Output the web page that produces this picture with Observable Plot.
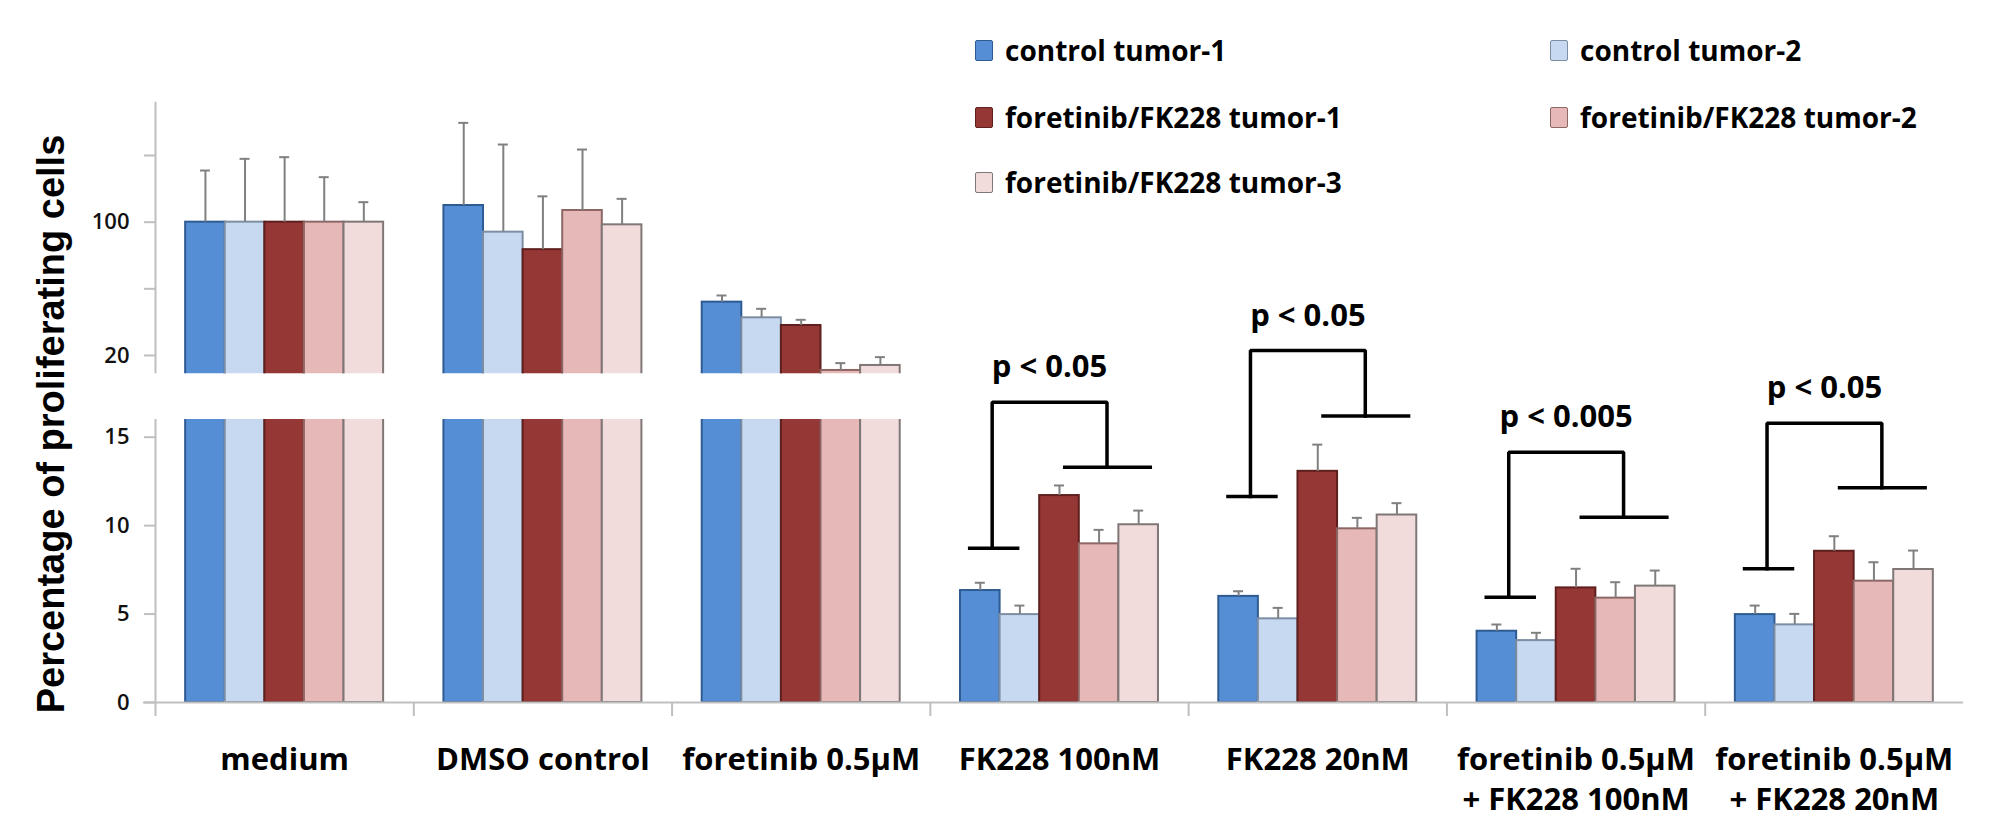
<!DOCTYPE html>
<html>
<head>
<meta charset="utf-8">
<script src="https://cdn.jsdelivr.net/npm/d3@7"></script>
<script src="https://cdn.jsdelivr.net/npm/@observablehq/plot@0.6"></script>
<style>
  body { margin: 0; background: #fff; }
  #chart { position: relative; width: 2008px; height: 839px; background: #fff; overflow: hidden; }
  #chart svg { position: absolute; left: 0; top: 0; }
  .ytitle {
    position: absolute; left: 51px; top: 424px; white-space: nowrap;
    transform: translate(-50%, -50%) rotate(-90deg);
    font: bold 38px "Liberation Sans", Arial, sans-serif; color: #000;
  }
  .key { position: absolute; display: flex; align-items: center; white-space: nowrap;
    font: bold 28px "Open Sans", sans-serif; color: #000; }
  .key i { display: inline-block; width: 16px; height: 19px; margin-right: 12px;
    border: 1.5px solid; border-radius: 2px; }
</style>
</head>
<body>
<div id="chart"></div>
<script>
// ---------- data ----------
const categories = [
  "medium", "DMSO control", "foretinib 0.5µM", "FK228 100nM", "FK228 20nM",
  "foretinib 0.5µM\n+ FK228 100nM", "foretinib 0.5µM\n+ FK228 20nM"
];
const series = [
  "control tumor-1", "control tumor-2", "foretinib/FK228 tumor-1",
  "foretinib/FK228 tumor-2", "foretinib/FK228 tumor-3"
];
const fills   = ["#558ed5", "#c6d9f1", "#953735", "#e6b9b8", "#f2dcdb"];
const strokes = ["#2f5b93", "#7d8ea3", "#5e1f1d", "#8c6766", "#7f7777"];

// mean % proliferating cells, one row per category, one column per series
const means = [
  [100, 100, 100, 100, 100],
  [110, 94, 83.5, 107, 98.4],
  [52, 42.6, 38, 11, 14],
  [6.33, 4.97, 11.7, 8.97, 10.05],
  [6.0, 4.73, 13.07, 9.82, 10.6],
  [4.03, 3.5, 6.48, 5.9, 6.58],
  [4.97, 4.39, 8.55, 6.86, 7.52]
];
const errors = [
  [31, 38, 39, 27, 12],
  [49.6, 52.6, 32, 36.6, 15.6],
  [4, 5.4, 3.4, 4.4, 5],
  [0.44, 0.51, 0.57, 0.79, 0.8],
  [0.29, 0.62, 1.51, 0.62, 0.67],
  [0.38, 0.44, 1.08, 0.9, 0.88],
  [0.51, 0.62, 0.85, 1.07, 1.07]
];
const brokenCount = 3;              // first categories are drawn across the axis break
const upperDomain = [9, 172];
const lowerDomain = [0, 16];
const upperTicks = [20, 60, 100, 140];
const upperLabelled = [20, 100];
const lowerTicks = [0, 5, 10, 15];

// significance brackets (categories 3..6), heights in lower-axis units
const pLabels     = ["p < 0.05", "p < 0.05", "p < 0.005", "p < 0.05"];
const bracketLow  = [8.72, 11.65, 5.95, 7.56];   // arm over the controls
const bracketHigh = [13.3, 16.2, 10.47, 12.14];  // arm over the treated tumors
const bracketTop  = [16.97, 19.9, 14.15, 15.79];

// ---------- layout helpers ----------
const W = 2008, H = 839;
const pad = 0.1167, bw = 0.1533;     // fraction of a category slot
const axisGray = "#bfbfbf";
const at = (gi, u) => gi + pad + u * bw;   // u in bar widths from the group's left edge

const rows = categories.flatMap((c, gi) => series.map((s, si) => ({
  gi, si, value: means[gi][si], err: errors[gi][si], broken: gi < brokenCount
})));

const barMarks = (data, y2) => series.map((s, si) => Plot.rectY(data.filter(d => d.si === si), {
  x1: d => at(d.gi, d.si), x2: d => at(d.gi, d.si + 1),
  y1: 0, y2,
  fill: fills[si], stroke: strokes[si], strokeWidth: 2, clip: true
}));
const errMarks = (data) => [
  Plot.ruleX(data, {x: d => at(d.gi, d.si + 0.5), y1: "value", y2: d => d.value + d.err,
    stroke: "#808080", strokeWidth: 2}),
  Plot.ruleY(data, {x1: d => at(d.gi, d.si + 0.5), x2: d => at(d.gi, d.si + 0.5),
    y: d => d.value + d.err, insetLeft: -5, insetRight: -5, stroke: "#808080", strokeWidth: 2})
];
const yTicks = (ticks, labelled) => [
  Plot.ruleY(ticks, {x1: 0, x2: 0, insetLeft: -11, stroke: axisGray, strokeWidth: 2}),
  Plot.text(labelled, {x: 0, y: d => d, dx: -26, textAnchor: "end", fontSize: 22,
    fontFamily: "Open Sans", fontWeight: 600, fill: "#111"})
];

// ---------- lower panel (0-16) ----------
const lowerRows = rows;
const bracketPts = pLabels.flatMap((p, k) => {
  const gi = brokenCount + k;
  return [
    {k, x: at(gi, 0.8), y: bracketLow[k]},
    {k, x: at(gi, 0.8), y: bracketTop[k]},
    {k, x: at(gi, 3.7), y: bracketTop[k]},
    {k, x: at(gi, 3.7), y: bracketHigh[k]}
  ];
});
const bracketArms = pLabels.flatMap((p, k) => {
  const gi = brokenCount + k;
  return [
    {x1: at(gi, 0.2), x2: at(gi, 1.5), y: bracketLow[k]},
    {x1: at(gi, 2.6), x2: at(gi, 4.85), y: bracketHigh[k]}
  ];
});

const lower = Plot.plot({
  width: W, height: H,
  marginLeft: 155, marginRight: 45, marginTop: 419, marginBottom: 137,
  style: {background: "none", overflow: "visible"},
  x: {domain: [0, categories.length], axis: null},
  y: {domain: lowerDomain, axis: null},
  marks: [
    ...barMarks(lowerRows, d => d.broken ? lowerDomain[1] + 2 : d.value),
    ...errMarks(lowerRows.filter(d => !d.broken)),
    Plot.ruleX([0], {insetBottom: -14, stroke: axisGray, strokeWidth: 2}),
    Plot.ruleY([0], {x1: 0, x2: categories.length, insetLeft: -12, stroke: axisGray, strokeWidth: 2}),
    Plot.ruleX(d3.range(1, categories.length), {y1: 0, y2: 0, insetBottom: -14, stroke: axisGray, strokeWidth: 2}),
    ...yTicks(lowerTicks, lowerTicks),
    Plot.text(categories, {x: (d, i) => i + 0.5, frameAnchor: "bottom", dy: 38,
      lineAnchor: "top", lineHeight: 1.32, fontSize: 31, fontWeight: "bold",
      fontFamily: "Open Sans", fill: "#000"}),
    // significance brackets
    Plot.line(bracketPts, {x: "x", y: "y", z: "k", stroke: "#000", strokeWidth: 3.5,
      strokeLinejoin: "miter", strokeLinecap: "square"}),
    Plot.ruleY(bracketArms, {x1: "x1", x2: "x2", y: "y", stroke: "#000", strokeWidth: 3.5}),
    Plot.text(pLabels, {x: (d, k) => at(brokenCount + k, 2.25), y: (d, k) => bracketTop[k],
      dy: -25, lineAnchor: "bottom", fontSize: 31, fontWeight: "bold",
      fontFamily: "Open Sans", fill: "#000"})
  ]
});

// ---------- upper panel (above the break) ----------
const upperRows = rows.filter(d => d.broken);
const upper = Plot.plot({
  width: W, height: 400,
  marginLeft: 155, marginRight: 45, marginTop: 101.7, marginBottom: 26.7,
  style: {background: "none", overflow: "visible"},
  x: {domain: [0, categories.length], axis: null},
  y: {domain: upperDomain, axis: null},
  marks: [
    ...barMarks(upperRows, "value"),
    ...errMarks(upperRows),
    Plot.ruleX([0], {stroke: axisGray, strokeWidth: 2}),
    ...yTicks(upperTicks, upperLabelled)
  ]
});

const chart = document.getElementById("chart");
chart.appendChild(lower);
chart.appendChild(upper);

// y-axis title
const title = document.createElement("div");
title.className = "ytitle";
title.textContent = "Percentage of proliferating cells";
chart.appendChild(title);

// legend: two columns, row-major
const keyCols = [975, 1550], keyRows = [50, 117, 182];
series.forEach((s, i) => {
  const el = document.createElement("div");
  el.className = "key";
  el.style.left = keyCols[i % 2] + "px";
  el.style.top = (keyRows[Math.floor(i / 2)] - 22) + "px";
  el.style.height = "44px";
  const sw = document.createElement("i");
  sw.style.background = fills[i];
  sw.style.borderColor = strokes[i];
  el.appendChild(sw);
  el.appendChild(document.createTextNode(s));
  chart.appendChild(el);
});
</script>
</body>
</html>
